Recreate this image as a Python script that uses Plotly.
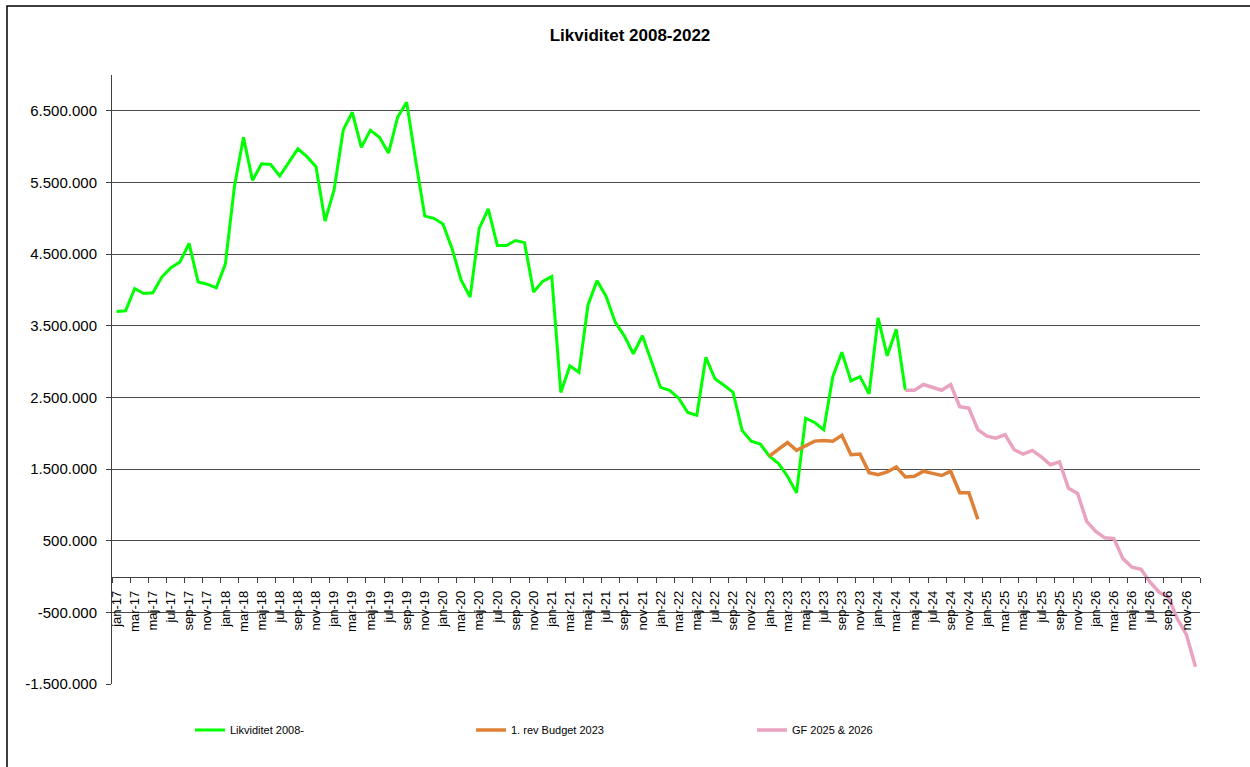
import plotly.graph_objects as go

# ---- data ----
month_names = ["jan", "feb", "mar", "apr", "maj", "jun", "jul", "aug", "sep", "okt", "nov", "dec"]
years = [17, 18, 19, 20, 21, 22, 23, 24, 25, 26]
categories = [f"{m}-{y}" for y in years for m in month_names]

# Likviditet 2008- (jan-17 .. apr-24)
likviditet = [
    3700000, 3710000, 4020000, 3950000, 3960000, 4180000, 4310000, 4390000, 4650000, 4110000,
    4080000, 4030000, 4360000, 5440000, 6130000, 5530000, 5760000, 5750000, 5590000, 5780000,
    5970000, 5860000, 5720000, 4960000, 5400000, 6230000, 6480000, 5990000, 6230000, 6130000,
    5910000, 6410000, 6620000, 5800000, 5030000, 5000000, 4920000, 4580000, 4140000, 3900000,
    4860000, 5130000, 4620000, 4620000, 4690000, 4660000, 3970000, 4120000, 4190000, 2570000,
    2940000, 2850000, 3790000, 4130000, 3910000, 3550000, 3360000, 3110000, 3360000, 3000000,
    2640000, 2600000, 2490000, 2290000, 2250000, 3060000, 2760000, 2670000, 2570000, 2040000,
    1890000, 1850000, 1680000, 1580000, 1400000, 1170000, 2210000, 2150000, 2050000, 2790000,
    3130000, 2730000, 2790000, 2550000, 3610000, 3080000, 3450000, 2600000,
]
likviditet_start = 0

# 1. rev Budget 2023 (jan-23 .. dec-24)
budget_2023 = [
    1680000, 1770000, 1870000, 1760000, 1820000, 1890000, 1900000, 1890000, 1970000, 1700000,
    1710000, 1450000, 1420000, 1460000, 1530000, 1390000, 1400000, 1470000, 1440000, 1410000,
    1470000, 1170000, 1170000, 800000,
]
budget_start = 72

# GF 2025 & 2026 (apr-24 .. dec-26)
gf_2025_2026 = [
    2600000, 2600000, 2680000, 2640000, 2600000, 2680000, 2370000, 2350000, 2050000, 1960000,
    1930000, 1980000, 1770000, 1710000, 1760000, 1670000, 1560000, 1600000, 1230000, 1160000,
    770000, 630000, 540000, 530000, 250000, 130000, 100000, -80000, -220000, -280000,
    -590000, -810000, -1260000,
]
gf_start = 87

y_tickvals = [-1500000, -500000, 500000, 1500000, 2500000, 3500000, 4500000, 5500000, 6500000]
y_ticktext = ["-1.500.000", "-500.000", "500.000", "1.500.000", "2.500.000",
              "3.500.000", "4.500.000", "5.500.000", "6.500.000"]

series_names = ["Likviditet 2008-", "1. rev Budget 2023", "GF 2025 & 2026"]
title_text = "Likviditet 2008-2022"

# ---- figure ----
Y_MIN, Y_MAX = -1500000, 7000000
FONT = "Liberation Sans, Arial, sans-serif"
NARROW = "Liberation Sans Narrow, Arial Narrow, Liberation Sans, Arial, sans-serif"

fig = go.Figure()
fig.add_trace(go.Scatter(
    x=list(range(likviditet_start, likviditet_start + len(likviditet))), y=likviditet,
    mode="lines", name=series_names[0], line=dict(color="#00FF00", width=3),
))
fig.add_trace(go.Scatter(
    x=list(range(budget_start, budget_start + len(budget_2023))), y=budget_2023,
    mode="lines", name=series_names[1], line=dict(color="#DE8136", width=3.5),
))
fig.add_trace(go.Scatter(
    x=list(range(gf_start, gf_start + len(gf_2025_2026))), y=gf_2025_2026,
    mode="lines", name=series_names[2], line=dict(color="#E9A3C1", width=3.5),
))

n = len(categories)
label_idx = list(range(0, n, 2))

fig.update_layout(
    width=1250, height=767,
    margin=dict(l=112, r=50, t=75, b=83, autoexpand=False),
    paper_bgcolor="white", plot_bgcolor="white",
    font=dict(family=FONT, color="black"),
    title=dict(text="<b>" + title_text + "</b>", x=0.504, xref="container", xanchor="center",
               y=1 - 35 / 767, yref="container", yanchor="middle",
               font=dict(family=FONT, size=17, color="black")),
    showlegend=True,
    legend=dict(orientation="h", x=(190 - 112) / 1088, xanchor="left",
                y=1 - (730 - 75) / 609, yanchor="middle",
                entrywidth=236, entrywidthmode="pixels",
                font=dict(family=NARROW, size=11, color="black"),
                bgcolor="rgba(0,0,0,0)", itemwidth=30),
    xaxis=dict(
        range=[-0.5, n - 0.5], anchor="free",
        position=(0 - Y_MIN) / (Y_MAX - Y_MIN),
        showgrid=False, zeroline=False,
        showline=True, linecolor="#404040", linewidth=1,
        tickmode="array", tickvals=label_idx, ticktext=[categories[i] for i in label_idx],
        tickangle=-90, ticks="", ticklabelstandoff=8,
        tickfont=dict(family=FONT, size=13, color="black"),
        minor=dict(tickmode="array", tickvals=[i - 0.5 for i in range(0, n + 1, 2)],
                   ticks="outside", ticklen=5, tickcolor="#404040", tickwidth=1, showgrid=False),
        fixedrange=True,
    ),
    yaxis=dict(
        range=[Y_MIN, Y_MAX],
        showgrid=True, gridcolor="#4a4a4a", gridwidth=1,
        zeroline=False,
        showline=True, linecolor="#404040", linewidth=1,
        tickmode="array", tickvals=y_tickvals, ticktext=y_ticktext,
        ticks="outside", ticklen=5, tickcolor="#404040",
        ticklabelstandoff=6,
        tickfont=dict(family=FONT, size=15, color="black"),
        fixedrange=True,
    ),
    shapes=[dict(type="rect", xref="paper", yref="paper",
                 x0=(7 - 112) / 1088, x1=(1255 - 112) / 1088,
                 y0=1 - (775 - 75) / 609, y1=1 - (6 - 75) / 609,
                 line=dict(color="black", width=1.5), fillcolor="rgba(0,0,0,0)", layer="above")],
)

fig.write_html(
    "out.html",
    config={"displayModeBar": False},
    post_script="document.body.style.margin='0';document.body.style.overflow='hidden';",
)
